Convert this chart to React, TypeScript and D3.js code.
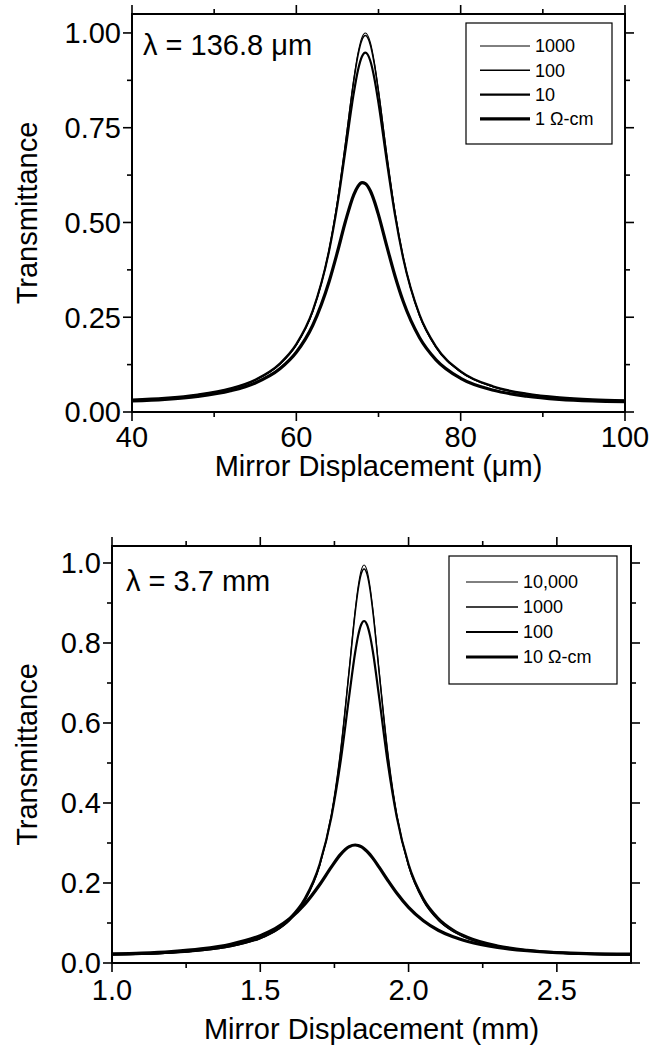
import React from 'react';
import * as d3 from 'd3';

// ---------- Top panel (λ = 136.8 µm) ----------
const topX = [40, 44, 48, 52, 55, 58, 60, 62, 64, 65, 66, 67, 67.5, 68, 68.4, 69, 69.5, 70, 71, 72, 73, 75, 77, 80, 84, 88, 92, 96, 100];
const top1000 = [0.0315, 0.036, 0.0446, 0.0608, 0.0833, 0.1254, 0.1763, 0.2652, 0.4293, 0.5559, 0.7147, 0.88, 0.9466, 0.989, 1.0, 0.9756, 0.9224, 0.849, 0.681, 0.528, 0.408, 0.2538, 0.1699, 0.1051, 0.0656, 0.047, 0.0373, 0.0322, 0.0298];
const top100 = [0.0318, 0.0364, 0.0451, 0.0614, 0.084, 0.1262, 0.177, 0.2655, 0.4285, 0.554, 0.711, 0.875, 0.9405, 0.9822, 0.993, 0.969, 0.9165, 0.8445, 0.6785, 0.5275, 0.4085, 0.2548, 0.1708, 0.106, 0.0662, 0.0475, 0.0377, 0.0326, 0.0301];
const top10 = [0.0325, 0.0371, 0.0459, 0.0624, 0.0854, 0.1281, 0.1792, 0.2674, 0.4269, 0.5468, 0.6937, 0.8425, 0.9014, 0.9384, 0.948, 0.9267, 0.88, 0.8149, 0.6629, 0.5207, 0.4064, 0.2562, 0.1728, 0.1075, 0.0674, 0.0484, 0.0384, 0.0331, 0.0307];
const top1 = [0.029, 0.0332, 0.0412, 0.0562, 0.0767, 0.114, 0.1575, 0.2288, 0.345, 0.422, 0.5044, 0.5736, 0.5953, 0.6049, 0.6025, 0.5836, 0.5557, 0.5201, 0.4384, 0.3596, 0.2921, 0.1959, 0.1376, 0.0888, 0.0572, 0.0418, 0.0335, 0.0292, 0.0272];
const topLegend = ['1000', '100', '10', '1 Ω-cm'];
const topXMajor = [40, 60, 80, 100];
const topXMinor = [50, 70, 90];
const topYMajor = [0, 0.25, 0.5, 0.75, 1.0];
const topYMinor = [0.125, 0.375, 0.625, 0.875];

// ---------- Bottom panel (λ = 3.7 mm) ----------
const botX = [1.0, 1.1, 1.2, 1.3, 1.4, 1.5, 1.55, 1.6, 1.65, 1.7, 1.74, 1.77, 1.8, 1.82, 1.83, 1.84, 1.85, 1.86, 1.87, 1.88, 1.9, 1.93, 1.96, 2.0, 2.05, 2.1, 2.15, 2.2, 2.3, 2.4, 2.5, 2.6, 2.75];
const bot10000 = [0.0202, 0.0217, 0.0248, 0.0305, 0.0407, 0.0608, 0.0786, 0.1068, 0.1546, 0.242, 0.37, 0.524, 0.7358, 0.8828, 0.9418, 0.981, 0.995, 0.981, 0.9418, 0.8828, 0.7358, 0.524, 0.37, 0.242, 0.1546, 0.1068, 0.0786, 0.0608, 0.0407, 0.0305, 0.0248, 0.0217, 0.0199];
const bot1000 = [0.0204, 0.0219, 0.0251, 0.0308, 0.0411, 0.0614, 0.0793, 0.1077, 0.1557, 0.2433, 0.3709, 0.5239, 0.7323, 0.876, 0.9333, 0.9716, 0.985, 0.9716, 0.9333, 0.876, 0.7323, 0.5239, 0.3709, 0.2433, 0.1557, 0.1077, 0.0793, 0.0614, 0.0411, 0.0308, 0.0251, 0.0219, 0.0201];
const bot100 = [0.0218, 0.0234, 0.0268, 0.0328, 0.0437, 0.0649, 0.0835, 0.1127, 0.1611, 0.2468, 0.3657, 0.4995, 0.6686, 0.7768, 0.8184, 0.8456, 0.855, 0.8456, 0.8184, 0.7768, 0.6686, 0.4995, 0.3657, 0.2468, 0.1611, 0.1127, 0.0835, 0.0649, 0.0437, 0.0328, 0.0268, 0.0234, 0.0215];
const bot10 = [0.0227, 0.0247, 0.0285, 0.0351, 0.0468, 0.0684, 0.086, 0.1112, 0.1471, 0.1956, 0.2403, 0.2709, 0.2908, 0.295, 0.2939, 0.2908, 0.2858, 0.2791, 0.2709, 0.2615, 0.2403, 0.2066, 0.1748, 0.139, 0.1055, 0.0819, 0.0655, 0.0538, 0.039, 0.0307, 0.0259, 0.0233, 0.022];
const botLegend = ['10,000', '1000', '100', '10 Ω-cm'];
const botXMajor = [1.0, 1.5, 2.0, 2.5];
const botXMinor = [1.25, 1.75, 2.25];
const botYMajor = [0, 0.2, 0.4, 0.6, 0.8, 1.0];
const botYMinor = [0.1, 0.3, 0.5, 0.7, 0.9];

const FONT = "'Liberation Sans', Arial, Helvetica, sans-serif";
const widths = [1.1, 1.5, 2.2, 3.2];
const legendWidths = [1, 1.4, 2.2, 3.2];

type PanelProps = {
  left: number; right: number; top: number; bottom: number;
  xDomain: [number, number]; yDomain: [number, number];
  xs: number[]; series: number[][]; names: string[];
  xMajor: number[]; xMinor: number[]; yMajor: number[]; yMinor: number[];
  xFmt: (v: number) => string; yFmt: (v: number) => string;
  xTitle: string; note: string; noteX: number; noteY: number;
  tickLabelDy: number; titleDy: number;
  legendBox: { x: number; y: number; w: number; h: number; lineX0: number; lineX1: number; rowY0: number; rowDy: number };
};

function Panel(p: PanelProps) {
  const x = d3.scaleLinear().domain(p.xDomain).range([p.left, p.right]);
  const y = d3.scaleLinear().domain(p.yDomain).range([p.bottom, p.top]);
  const line = d3.line<number>().x((_, i) => x(p.xs[i])).y((d) => y(d)).curve(d3.curveMonotoneX);
  const MAJ = 9, MIN = 5;
  const tickStroke = { stroke: '#000', strokeWidth: 1.6 };
  const lb = p.legendBox;
  return (
    <g fontFamily={FONT}>
      <defs>
        <clipPath id={`clip${p.top}`}>
          <rect x={p.left} y={p.top} width={p.right - p.left} height={p.bottom - p.top} />
        </clipPath>
      </defs>
      <g clipPath={`url(#clip${p.top})`}>
        {p.series.map((s, i) => (
          <path key={i} d={line(s) || ''} fill="none" stroke="#000" strokeWidth={widths[i]} strokeLinejoin="round" />
        ))}
      </g>
      <rect x={p.left} y={p.top} width={p.right - p.left} height={p.bottom - p.top} fill="none" stroke="#000" strokeWidth={2} />
      {p.xMajor.map((v) => (
        <g key={'xM' + v}>
          <line x1={x(v)} x2={x(v)} y1={p.bottom} y2={p.bottom + MAJ} {...tickStroke} />
          <line x1={x(v)} x2={x(v)} y1={p.top} y2={p.top - MAJ} {...tickStroke} />
          <text x={x(v)} y={p.bottom + p.tickLabelDy} fontSize={29} textAnchor="middle">{p.xFmt(v)}</text>
        </g>
      ))}
      {p.xMinor.map((v) => (
        <g key={'xm' + v}>
          <line x1={x(v)} x2={x(v)} y1={p.bottom} y2={p.bottom + MIN} {...tickStroke} />
          <line x1={x(v)} x2={x(v)} y1={p.top} y2={p.top - MIN} {...tickStroke} />
        </g>
      ))}
      {p.yMajor.map((v) => (
        <g key={'yM' + v}>
          <line x1={p.left} x2={p.left - MAJ} y1={y(v)} y2={y(v)} {...tickStroke} />
          <line x1={p.right} x2={p.right + MAJ} y1={y(v)} y2={y(v)} {...tickStroke} />
          <text x={p.left - 11} y={y(v)} dy="0.36em" fontSize={29} textAnchor="end">{p.yFmt(v)}</text>
        </g>
      ))}
      {p.yMinor.map((v) => (
        <g key={'ym' + v}>
          <line x1={p.left} x2={p.left - MIN} y1={y(v)} y2={y(v)} {...tickStroke} />
          <line x1={p.right} x2={p.right + MIN} y1={y(v)} y2={y(v)} {...tickStroke} />
        </g>
      ))}
      <text x={(p.left + p.right) / 2} y={p.bottom + p.titleDy} fontSize={29} textAnchor="middle">{p.xTitle}</text>
      <text transform={`translate(37,${(p.top + p.bottom) / 2}) rotate(-90)`} fontSize={29} textAnchor="middle">Transmittance</text>
      <text x={p.noteX} y={p.noteY} fontSize={29}>{p.note}</text>
      <rect x={lb.x} y={lb.y} width={lb.w} height={lb.h} fill="#fff" stroke="#000" strokeWidth={1.2} />
      {p.names.map((n, i) => (
        <g key={n}>
          <line x1={lb.lineX0} x2={lb.lineX1} y1={lb.rowY0 + i * lb.rowDy} y2={lb.rowY0 + i * lb.rowDy} stroke="#000" strokeWidth={legendWidths[i]} />
          <text x={lb.lineX1 + 5} y={lb.rowY0 + i * lb.rowDy} dy="0.36em" fontSize={18}>{n}</text>
        </g>
      ))}
    </g>
  );
}

export default function App() {
  return (
    <svg width={652} height={1050} style={{ position: 'absolute', left: 0, top: 0, background: '#fff' }}>
      <rect width={652} height={1050} fill="#fff" />
      <Panel
        left={132} right={625} top={14} bottom={412}
        xDomain={[40, 100]} yDomain={[0, 1.05]}
        xs={topX} series={[top1000, top100, top10, top1]} names={topLegend}
        xMajor={topXMajor} xMinor={topXMinor} yMajor={topYMajor} yMinor={topYMinor}
        xFmt={d3.format('d')} yFmt={d3.format('.2f')}
        xTitle="Mirror Displacement (μm)" note="λ = 136.8 μm" noteX={143} noteY={55}
        tickLabelDy={35} titleDy={64}
        legendBox={{ x: 466, y: 23, w: 146, h: 121, lineX0: 480, lineX1: 530, rowY0: 46, rowDy: 24.3 }}
      />
      <Panel
        left={112} right={631} top={546} bottom={963}
        xDomain={[1.0, 2.75]} yDomain={[0, 1.0425]}
        xs={botX} series={[bot10000, bot1000, bot100, bot10]} names={botLegend}
        xMajor={botXMajor} xMinor={botXMinor} yMajor={botYMajor} yMinor={botYMinor}
        xFmt={d3.format('.1f')} yFmt={d3.format('.1f')}
        xTitle="Mirror Displacement (mm)" note="λ = 3.7 mm" noteX={126} noteY={591}
        tickLabelDy={37} titleDy={76}
        legendBox={{ x: 449, y: 556, w: 168, h: 128, lineX0: 466, lineX1: 518, rowY0: 582, rowDy: 25 }}
      />
    </svg>
  );
}
